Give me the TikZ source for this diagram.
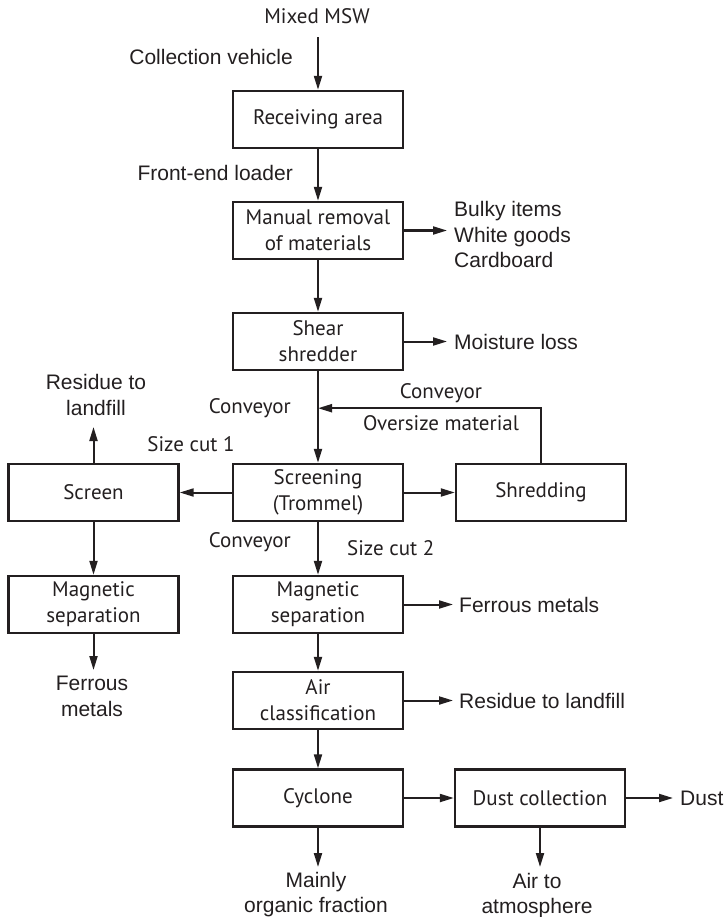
\documentclass[tikz,border=0pt]{standalone}
\usepackage{fontspec}
\setmainfont{Liberation Sans}
\newfontfamily\humsans{PT Sans}
\usetikzlibrary{arrows.meta}
\definecolor{ink}{RGB}{35,31,32}

\begin{document}
\begin{tikzpicture}[x=1pt,y=-1pt,
  box/.style={draw=ink, line width=2.4pt, minimum width=170pt, minimum height=57pt,
    align=center, inner sep=0pt, text=ink, font=\humsans\fontsize{21}{26}\selectfont},
  lbl/.style={inner sep=0pt, text=ink, align=center, font=\fontsize{21}{25.5}\selectfont},
  hlbl/.style={inner sep=0pt, text=ink, align=center, font=\humsans\fontsize{21}{26}\selectfont},
  flow/.style={draw=ink, line width=2pt, -{Triangle[length=14pt,width=8pt]}},
]
\fill[white] (0,0) rectangle (723,917);
\useasboundingbox (0,0) rectangle (723,917);

% process boxes
\node[box] (recv)   at (318,119.5) {Receiving area};
\node[box] (manual) at (318,230.5) {Manual removal\\of materials};
\node[box] (shear)  at (318,341.5) {Shear\\shredder};
\node[box] (scr)    at (318,492.5) {Screening\\(Trommel)};
\node[box] (shred)  at (541,492.5) {Shredding};
\node[box] (screen) at (93.5,492.5) {Screen};
\node[box] (magL)   at (93.5,604.5) {Magnetic\\separation};
\node[box] (magC)   at (318,604.5) {Magnetic\\separation};
\node[box] (air)    at (318,700.5) {Air\\classification};
\node[box] (cyc)    at (318,798) {Cyclone};
\node[box] (dust)   at (540,798) {Dust collection};

% inputs, outputs and transport labels
\node[hlbl, anchor=base] (mixed) at (317,23.3) {Mixed MSW};
\node[lbl, anchor=east] (collect) at (293,57) {Collection vehicle};
\node[lbl, anchor=east] (loader) at (293,173) {Front-end loader};
\node[lbl, anchor=west, align=left] (bulky) at (454,234.5) {Bulky items\\White goods\\Cardboard};
\node[lbl, anchor=west] (moist) at (454,341.5) {Moisture loss};
\node[lbl, anchor=south] (resL) at (96,415.5) {Residue to\\landfill};
\node[hlbl, anchor=base east] (conv1) at (291,413) {Conveyor};
\node[hlbl, anchor=base] (conv2) at (441,398.5) {Conveyor};
\node[hlbl, anchor=base] (over) at (441,430) {Oversize material};
\node[hlbl, anchor=base] (cut1) at (191,451) {Size cut 1};
\node[hlbl, anchor=base east] (conv3) at (291,547) {Conveyor};
\node[hlbl, anchor=base west] (cut2) at (347,555) {Size cut 2};
\node[lbl, anchor=north] (ferL) at (92,676) {Ferrous\\metals};
\node[lbl, anchor=west] (ferC) at (459,604.5) {Ferrous metals};
\node[lbl, anchor=west] (resC) at (459,700.5) {Residue to landfill};
\node[lbl, anchor=west] (dustout) at (680,798) {Dust};
\node[lbl, anchor=north] (organic) at (316,872) {Mainly\\organic fraction};
\node[lbl, anchor=north] (atm) at (537,873) {Air to\\atmosphere};

% return point of the oversize loop on the main line
\path (shear.south) ++(0,37) coordinate (fb);

% main line
\draw[flow, shorten <=13.5pt] (recv.north |- mixed.south) -- (recv.north);
\draw[flow] (recv.south) -- (manual.north);
\draw[flow] (manual.south) -- (shear.north);
\draw[flow] (shear.south) -- (scr.north);
\draw[flow] (scr.south) -- (magC.north);
\draw[flow] (magC.south) -- (air.north);
\draw[flow] (air.south) -- (cyc.north);

% side streams
\draw[flow, shorten >=7pt] (manual.east) -- (manual.east -| bulky.west);
\draw[flow, shorten >=7pt] (shear.east) -- (moist.west);
\draw[flow] (scr.west) -- (screen.east);
\draw[flow] (scr.east) -- (shred.west);
\draw[flow] (shred.north) |- (fb);
\draw[flow, shorten >=11.5pt] (screen.north) -- (screen.north |- resL.south);
\draw[flow] (screen.south) -- (magL.north);
\draw[flow, shorten >=6pt] (magL.south) -- (magL.south |- ferL.north);
\draw[flow, shorten >=6pt] (magC.east) -- (ferC.west);
\draw[flow, shorten >=6pt] (air.east) -- (resC.west);
\draw[flow] (cyc.east) -- (dust.west);
\draw[flow, shorten >=7pt] (dust.east) -- (dustout.west);
\draw[flow, shorten >=5pt] (cyc.south) -- (cyc.south |- organic.north);
\draw[flow, shorten >=6pt] (dust.south) -- (dust.south |- atm.north);
\end{tikzpicture}
\end{document}
